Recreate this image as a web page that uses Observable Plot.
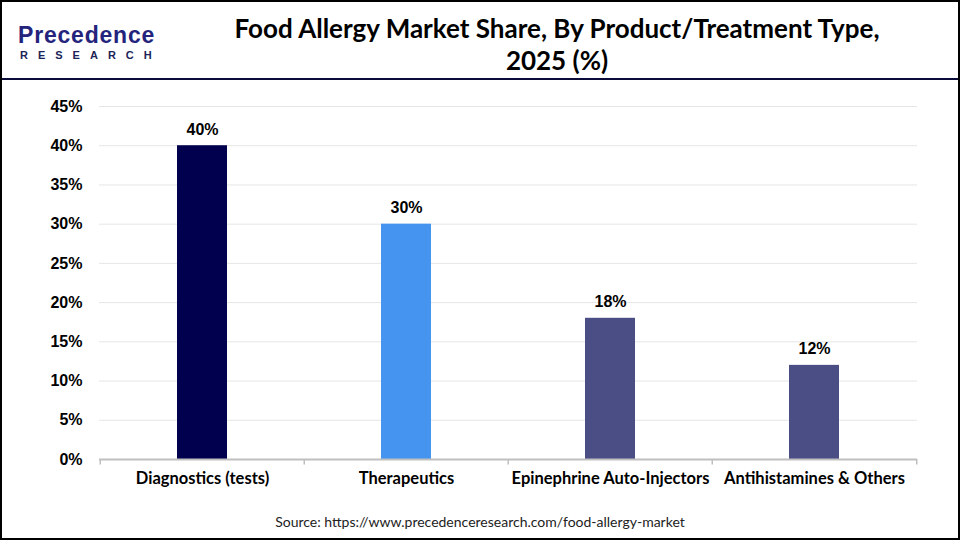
<!DOCTYPE html>
<html>
<head>
<meta charset="utf-8">
<script src="https://cdn.jsdelivr.net/npm/d3@7"></script>
<script src="https://cdn.jsdelivr.net/npm/@observablehq/plot@0.6"></script>
<style>
  html, body { margin: 0; padding: 0; background: #fff; }
  #frame { position: relative; width: 960px; height: 540px; box-sizing: border-box; border: 2px solid #000; background: #fff; overflow: hidden; }
  #header { position: absolute; left: 0; top: 0; width: 956px; height: 76px; border-bottom: 2px solid #0b0b3a; }
  #logo1 { position: absolute; left: 16px; top: 21px; font-family: "Liberation Sans", Arial, sans-serif; font-size: 23px; font-weight: 700; color: #24247c; letter-spacing: 0.8px; line-height: 1.117; white-space: nowrap; }
  #logo2 { position: absolute; left: 18px; top: 47.4px; font-family: "Liberation Sans", Arial, sans-serif; font-size: 11px; font-weight: 700; color: #1c2457; letter-spacing: 10px; line-height: 1.117; white-space: nowrap; }
  #title { position: absolute; left: 160px; width: 790px; top: 10px; text-align: center; font-family: Lato, sans-serif; font-weight: 700; font-size: 26px; line-height: 32px; color: #000; }
  #chart { position: absolute; left: 0; top: 80px; }
  #source { position: absolute; left: 0; width: 956px; top: 511px; text-align: center; font-family: Lato, sans-serif; font-size: 14px; color: #222; }
</style>
</head>
<body>
<div id="frame">
  <div id="header">
    <div id="logo1">Precedence</div>
    <div id="logo2">RESEARCH</div>
    <div id="title">Food Allergy Market Share, By Product/Treatment Type,<br>2025 (%)</div>
  </div>
  <div id="chart"></div>
  <div id="source">Source: https://www.precedenceresearch.com/food-allergy-market</div>
</div>
<script>
const categories = ["Diagnostics (tests)", "Therapeutics", "Epinephrine Auto-Injectors", "Antihistamines & Others"];
const shares = [40, 30, 18, 12];
const barColors = ["#00004f", "#4594ef", "#4b4e85", "#4b4e85"];
const yTicks = [0, 5, 10, 15, 20, 25, 30, 35, 40, 45];

const data = categories.map((c, i) => ({category: c, share: shares[i], color: barColors[i]}));

const W = 956, H = 420, mL = 97, mR = 41;
const step = (W - mL - mR) / categories.length;

const chart = Plot.plot({
  width: W,
  height: H,
  marginTop: 24,
  marginBottom: 43,
  marginLeft: mL,
  marginRight: mR,
  style: {fontFamily: "Liberation Sans, Arial, sans-serif", background: "transparent"},
  x: {domain: categories, paddingInner: 0.755, paddingOuter: 0.3775, align: 0.5, label: null},
  y: {domain: [0, 45], ticks: yTicks, label: null},
  marks: [
    Plot.gridY(yTicks.filter(d => d > 0), {stroke: "#e6e6e6", strokeOpacity: 1, strokeWidth: 1}),
    Plot.barY(data, {x: "category", y: "share", fill: "color"}),
    Plot.ruleY([0], {stroke: "#bfbfbf", strokeWidth: 2}),
    Plot.ruleX(categories, {x: d => d, y1: 0, y2: -0.7, dx: -step / 2, stroke: "#bfbfbf", strokeWidth: 1.5}),
    Plot.ruleX([categories[categories.length - 1]], {x: d => d, y1: 0, y2: -0.7, dx: step / 2, stroke: "#bfbfbf", strokeWidth: 1.5}),
    Plot.text(data, {x: "category", y: "share", text: d => d.share + "%", dy: -16, fontSize: 16, fontWeight: "bold", fill: "#000"}),
    Plot.axisY({ticks: yTicks, tickFormat: d => d + "%", tickSize: 0, tickPadding: 17, fontSize: 16, fontWeight: "bold", label: null, fill: "#000"}),
    Plot.axisX({tickSize: 0, tickPadding: 13, fontSize: 16.5, fontWeight: "bold", fontFamily: "Lato, sans-serif", label: null, fill: "#000"})
  ]
});
document.getElementById("chart").appendChild(chart);
</script>
</body>
</html>
